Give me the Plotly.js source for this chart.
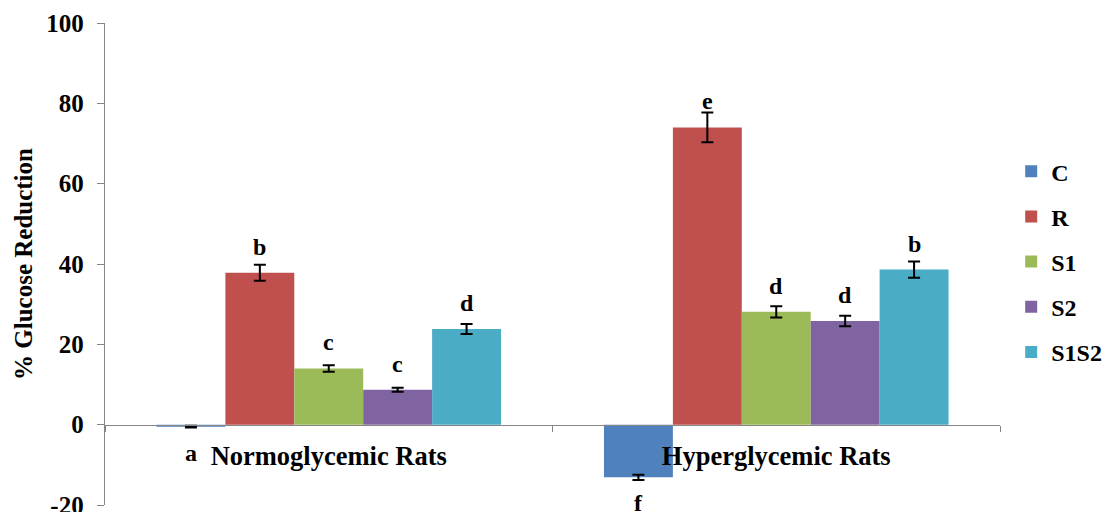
<!DOCTYPE html>
<html>
<head>
<meta charset="utf-8">
<script src="https://cdn.plot.ly/plotly-3.0.1.min.js"></script>
<style>html,body{margin:0;padding:0;background:#fff;}#chart{width:1117px;height:512px;}</style>
</head>
<body>
<div id="chart"></div>
<script>
var categories = ["Normoglycemic Rats", "Hyperglycemic Rats"];
var seriesNames = ["C", "R", "S1", "S2", "S1S2"];
var valuesC = [-0.5, -13.1];
var valuesR = [37.8, 74.0];
var valuesS1 = [14.0, 28.1];
var valuesS2 = [8.7, 25.8];
var valuesS1S2 = [23.8, 38.6];
var errC = [0.2, 0.65];
var errR = [2.0, 3.7];
var errS1 = [0.8, 1.4];
var errS2 = [0.5, 1.3];
var errS1S2 = [1.25, 2.0];
var lettersC = ["a", "f"];
var lettersR = ["b", "e"];
var lettersS1 = ["c", "d"];
var lettersS2 = ["c", "d"];
var lettersS1S2 = ["d", "b"];
var colors = ["#4F81BD", "#C0504D", "#9BBB59", "#8064A2", "#4BACC6"];
var yTickVals = [-20, 0, 20, 40, 60, 80, 100];

var allValues = [valuesC, valuesR, valuesS1, valuesS2, valuesS1S2];
var allErr = [errC, errR, errS1, errS2, errS1S2];
var allLetters = [lettersC, lettersR, lettersS1, lettersS2, lettersS1S2];

var FONT = "Liberation Serif";
var yMin = -20, yMax = 100;
var bargap = 0.23;
var nS = seriesNames.length;
var barW = (1 - bargap) / nS;

var traces = seriesNames.map(function (name, i) {
  return {
    type: "bar",
    name: "<b>" + name + "</b>",
    x: categories,
    y: allValues[i],
    marker: { color: colors[i], line: { width: 0 } },
    error_y: { type: "data", array: allErr[i], visible: true, color: "#000", thickness: 2, width: 6 },
    legendgroup: name,
    hoverinfo: "y"
  };
});

var annotations = [];
seriesNames.forEach(function (name, i) {
  categories.forEach(function (cat, j) {
    var v = allValues[i][j];
    var pos = v >= 0;
    annotations.push({
      x: j + (i - (nS - 1) / 2) * barW,
      xref: "x",
      y: v,
      yref: "y",
      text: "<b>" + allLetters[i][j] + "</b>",
      showarrow: false,
      yanchor: pos ? "bottom" : "top",
      yshift: pos ? 11 : -11,
      font: { family: FONT, size: 24, color: "#000" }
    });
  });
});

var layout = {
  width: 1117,
  height: 512,
  margin: { l: 105, r: 117, t: 23, b: 7 },
  paper_bgcolor: "#fff",
  plot_bgcolor: "#fff",
  barmode: "group",
  bargap: bargap,
  bargroupgap: 0,
  showlegend: true,
  legend: {
    x: 1.0125, xanchor: "left",
    y: 0.505, yanchor: "middle",
    font: { family: FONT, size: 24, color: "#000", weight: "bold" },
    tracegroupgap: 11,
    bgcolor: "rgba(0,0,0,0)"
  },
  font: { family: FONT, color: "#000" },
  xaxis: {
    type: "category",
    anchor: "free",
    position: (0 - yMin) / (yMax - yMin),
    showline: true,
    linecolor: "#868686",
    linewidth: 1.3,
    ticks: "outside",
    tickson: "boundaries",
    ticklen: 6,
    tickcolor: "#868686",
    ticklabelstandoff: 7,
    tickfont: { family: FONT, size: 26.5, color: "#000", weight: "bold" },
    showgrid: false,
    zeroline: false
  },
  yaxis: {
    range: [yMin, yMax],
    tickvals: yTickVals,
    ticktext: yTickVals.map(String),
    ticks: "outside",
    ticklen: 7,
    tickcolor: "#868686",
    showline: true,
    linecolor: "#868686",
    linewidth: 1.3,
    showgrid: false,
    zeroline: false,
    ticklabelstandoff: 8,
    ticklabeloverflow: "allow",
    tickfont: { family: FONT, size: 25, color: "#000", weight: "bold" },
    title: { text: "<b>% Glucose Reduction</b>", font: { family: FONT, size: 25, color: "#000" }, standoff: 6 }
  },
  annotations: annotations
};

Plotly.newPlot("chart", traces, layout, { staticPlot: true });
</script>
</body>
</html>
